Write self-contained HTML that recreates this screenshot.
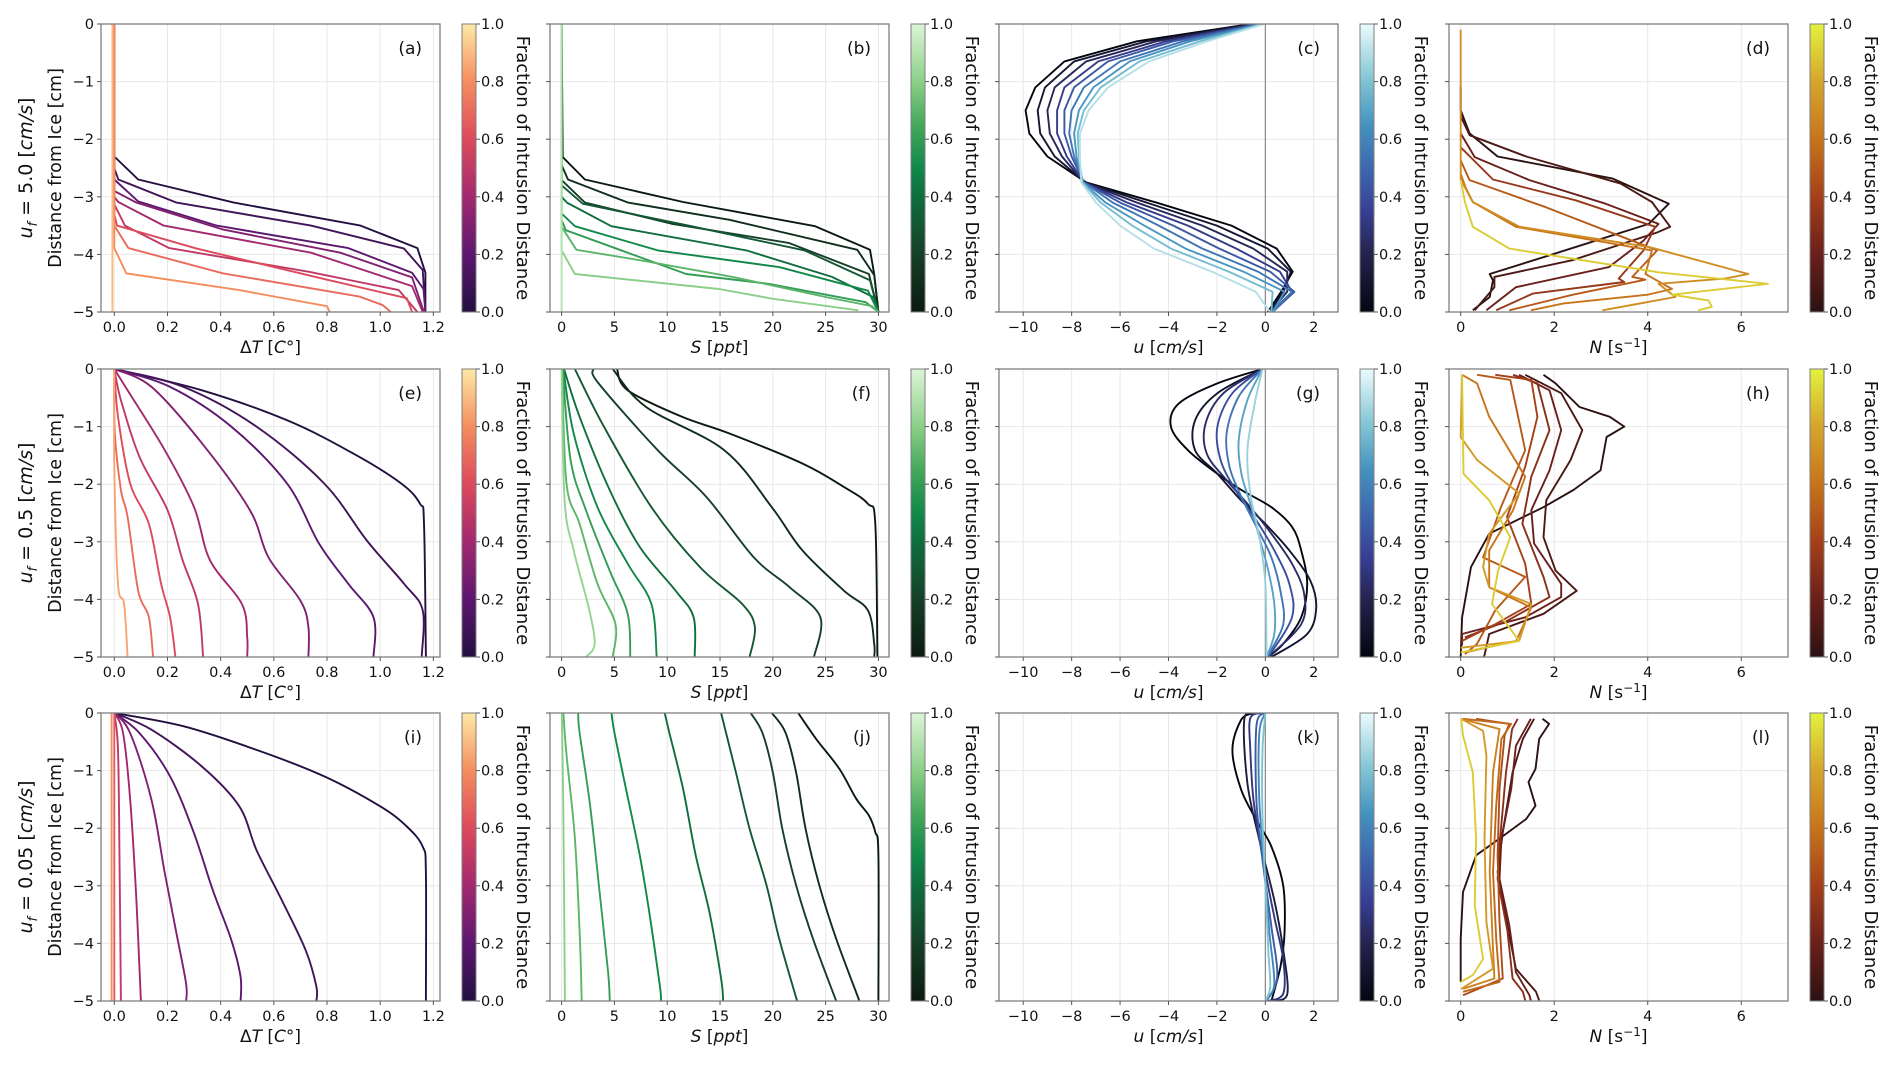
<!DOCTYPE html>
<html><head><meta charset="utf-8"><style>
html,body{margin:0;padding:0;background:#fff;}
svg text{font-family:"DejaVu Sans","Liberation Sans",sans-serif;fill:#111;}
</style></head><body>
<svg id="fig" xmlns="http://www.w3.org/2000/svg" width="1892" height="1060" viewBox="0 0 1892 1060">
<defs></defs>
</svg>
<script>
// ---------- data ----------
const aFrac=[0,0.1,0.2,0.3,0.4,0.5,0.6,0.7,0.8,0.9];
const aX=[[0,0,0.09,0.45,0.926,1.14,1.17,1.17],[0,0,0.015,0.234,0.74,1.09,1.16,1.17],[0,0,0.09,0.385,0.88,1.12,1.163,1.17],[0,0,0.083,0.41,0.85,1.12,1.165],[0,0,0.015,0.186,0.74,1.12,1.16],[0,0,0.04,0.207,0.73,1.07,1.14],[0,0,0.01,0.31,0.8,1.1,1.12],[0,0,0.053,0.41,0.92,1.01,1.04],[0,0,0.045,0.47,0.8,0.81],[-0.007,-0.007]];
const aZ=[[0,-2.3,-2.7,-3.1,-3.5,-3.89,-4.32,-5],[0,-2.5,-2.7,-3.1,-3.5,-3.9,-4.27,-5],[0,-2.7,-3.08,-3.5,-3.89,-4.32,-4.6,-5],[0,-2.9,-3.1,-3.57,-3.97,-4.4,-5],[0,-3.0,-3.09,-3.5,-3.97,-4.55,-5],[0,-3.13,-3.5,-3.89,-4.3,-4.62,-5],[0,-3.3,-3.5,-3.9,-4.44,-4.76,-5],[0,-3.5,-3.89,-4.33,-4.73,-4.88,-5],[0,-3.89,-4.33,-4.62,-4.9,-5],[0,-5]];

const bFrac=[0,0.1,0.2,0.3,0.4,0.5,0.6,0.7,0.8,0.9];
const bX=[[0,0.1,2.2,11.5,24,29.2,29.6,30],[0,0,0.6,6.3,15.9,28,29.6,30],[0,0,2.2,10.5,21.5,29.1,30],[0,0,2.0,12,23,29.2,30],[0,0,0.5,4.7,17.5,25.6,29.5,30],[0,0,1.26,9.1,20.6,29,30],[0,0,0.4,5.5,11.8,19.6,28.8,30],[0,0,1.4,7.4,16.2,25,29.4,30],[0,0,1.26,14.9,20,28.1],[0,0]];
const bZ=[[0,-2.31,-2.7,-3.09,-3.51,-3.92,-4.34,-5],[0,-2.45,-2.7,-3.1,-3.4,-3.92,-4.36,-5],[0,-2.71,-3.1,-3.47,-3.8,-4.34,-5],[0,-2.8,-3.12,-3.5,-3.93,-4.45,-5],[0,-3.0,-3.1,-3.51,-3.93,-4.39,-4.74,-5],[0,-3.29,-3.51,-3.93,-4.22,-4.63,-5],[0,-3.4,-3.58,-3.92,-4.34,-4.51,-4.83,-5],[0,-3.52,-3.92,-4.1,-4.39,-4.74,-4.9,-5],[0,-3.93,-4.34,-4.6,-4.77,-4.97],[0,-5]];

const cFrac=[0,0.11,0.22,0.33,0.44,0.55,0.66,0.78,0.9];
const cDepth=[0,-0.3,-0.65,-1.1,-1.5,-1.9,-2.3,-2.75,-3.1,-3.5,-3.9,-4.3,-4.65,-5];
const cX=[[-0.6,-5.3,-8.3,-9.5,-9.9,-9.75,-9.0,-7.4,-4.5,-1.4,0.47,1.13,0.65,0.1],
[-0.5,-4.9,-7.9,-9.1,-9.4,-9.3,-8.7,-7.45,-4.9,-2.0,0.1,1.05,0.75,0.15],
[-0.4,-4.5,-7.4,-8.7,-9.0,-8.9,-8.4,-7.5,-5.3,-2.6,-0.5,0.9,0.9,0.2],
[-0.3,-4.1,-6.9,-8.3,-8.6,-8.6,-8.2,-7.5,-5.7,-3.2,-1.2,0.6,1.1,0.25],
[-0.25,-3.8,-6.5,-7.9,-8.3,-8.3,-8.0,-7.5,-6.0,-3.8,-1.9,0.2,1.2,0.3],
[-0.2,-3.4,-6.0,-7.5,-8.0,-8.1,-7.9,-7.5,-6.3,-4.4,-2.6,-0.3,1.1,0.3],
[-0.15,-3.1,-5.6,-7.1,-7.7,-7.9,-7.8,-7.55,-6.6,-5.0,-3.3,-0.9,0.8,0.3],
[-0.1,-2.7,-5.2,-6.8,-7.5,-7.75,-7.7,-7.55,-6.8,-5.5,-3.9,-1.5,0.3,0.25],
[-0.05,-2.4,-4.8,-6.5,-7.3,-7.66,-7.66,-7.6,-7.0,-6.0,-4.6,-2.2,-0.4,0.2]];

const dFrac=[0,0.1,0.2,0.35,0.5,0.6,0.7,0.9];
const dX=[[0,0,0.19,0.79,3.24,4.45,4.02,2.0,0.62,0.69,0.62,0.26],[0,0.19,1.4,3.42,4.09,4.48,4.2,2.39,0.72,0.72,0.3],[0,0.3,1.47,3.1,4.23,3.91,3.17,1.18,0.55],[0,0.69,2.46,4.16,3.91,3.38,3.5,1.54,0.76],[0,0.19,1.82,4.2,3.67,3.95,2.4,1.04],[0,0.1,0.26,1.18,4.09,3.95,4.52,4.0,2.2,1.5],[0,0,0.26,1.26,4.02,6.15,5.65,4.23,4.59,3.03],[0,0.09,0.26,1.04,4.23,6.57,4.52,5.3,5.37,5.08]];
const dZ=[[-1.09,-1.5,-1.9,-2.3,-2.68,-3.12,-3.47,-3.99,-4.34,-4.45,-4.74,-4.97],[-1.6,-1.93,-2.3,-2.77,-3.09,-3.52,-3.62,-4.1,-4.39,-4.57,-4.97],[-1.9,-2.31,-2.71,-3.12,-3.47,-3.76,-4.22,-4.57,-4.97],[-2.14,-2.7,-3.06,-3.52,-3.93,-4.42,-4.48,-4.68,-4.97],[-2.37,-2.71,-3.18,-3.93,-4.39,-4.44,-4.7,-4.97],[-2.6,-2.83,-3.09,-3.52,-3.93,-4.34,-4.6,-4.7,-4.85,-4.97],[-0.1,-2.7,-3.09,-3.52,-3.87,-4.34,-4.42,-4.51,-4.74,-4.97],[-2.7,-3.09,-3.52,-3.9,-4.31,-4.51,-4.7,-4.8,-4.91,-4.97]];

const eFrac=[0,0.1,0.2,0.3,0.4,0.5,0.6,0.7,0.85];
const eX=[[0,0.33,0.65,0.9,1.08,1.15,1.165,1.172],[0,0.26,0.535,0.79,0.95,1.09,1.16,1.156],[0,0.21,0.44,0.65,0.77,0.88,0.975,0.975],[0,0.14,0.33,0.51,0.58,0.7,0.73,0.73],[0,0.05,0.19,0.3,0.36,0.48,0.5,0.5],[0,0.025,0.095,0.2,0.257,0.315,0.334],[0,0.014,0.06,0.13,0.176,0.21,0.23],[0,0.002,0.025,0.05,0.09,0.13,0.146],[0,0,0.014,0.037,0.05]];
const eZ=[[0,-0.37,-0.89,-1.47,-1.99,-2.34,-2.69,-5],[0,-0.31,-1,-1.99,-2.98,-3.73,-4.19,-5],[0,-0.31,-1,-1.99,-3.03,-3.73,-4.31,-5],[0,-0.31,-1.29,-2.45,-3.27,-4.02,-4.48,-5],[0,-0.37,-1.41,-2.4,-3.32,-4.08,-4.66,-5],[0,-0.54,-1.53,-2.45,-3.32,-4.08,-5],[0,-0.83,-1.99,-2.69,-3.73,-4.31,-5],[0,-1.1,-2.1,-2.57,-3.85,-4.31,-5],[0,-1.7,-3.73,-4.08,-5]];

const fFrac=[0,0.1,0.2,0.3,0.4,0.5,0.6,0.7,0.82];
const fX=[[5.24,6.26,11.4,15.9,22.8,26.75,29,29.7,29.9],[4.84,8,15.4,19.9,22.8,26.75,29,29.6,29.6],[3.0,3.5,9.1,13.7,18.2,21.6,24.5,23.9],[1.25,4.0,8.5,13.1,17.1,18.3,17.8],[0.23,1.7,4.55,7.4,10.8,12.5,12.6],[0.17,1.14,3.4,6.26,8.5,9.0],[0.1,0.85,2.3,4.55,6.26,6.5],[0.05,0.46,1.7,3.4,5.1,4.84],[0,0.28,1.14,2.56,3.13,2.3]];
const fZ=[[0,-0.37,-0.83,-1.12,-1.64,-2.05,-2.34,-2.69,-5],[0,-0.66,-1.41,-2.4,-3.15,-3.85,-4.19,-4.77,-5],[0,-0.25,-1.41,-2.22,-3.27,-3.79,-4.31,-5],[0,-1,-2.4,-3.44,-4.08,-4.48,-5],[0,-0.83,-2.1,-3.09,-3.85,-4.31,-5],[0,-1.12,-2.4,-3.38,-4.08,-5],[0,-1.58,-2.45,-3.5,-4.25,-5],[0,-1.99,-2.69,-3.73,-4.43,-5],[0,-2.28,-3.15,-4.14,-4.77,-5]];

const gFrac=[0,0.1,0.25,0.4,0.55,0.7,0.85];
const gX=[[-0.12,-1.98,-3.58,-3.9,-3.2,-1.98,-0.99,0.25,1.1,1.48,1.73,1.48,0.74,0.12],[-0.12,-1.98,-2.9,-2.9,-1.98,-1,0,0.99,1.85,2.1,1.73,0.25],[-0.12,-1.73,-2.47,-2.42,-1.6,-0.62,0.25,1.1,1.6,1.48,0.12],[-0.12,-1.36,-1.98,-1.85,-1.23,-0.37,0.37,0.99,1.1,0.12],[-0.12,-1.1,-1.6,-1.48,-0.99,-0.37,0.25,0.62,0.74,0.07],[-0.12,-0.74,-1.1,-0.99,-0.62,-0.25,0.12,0.37,0.37,0.05],[-0.12,-0.44,-0.74,-0.62,-0.25,0,0.05]];
const gZ=[[0,-0.25,-0.6,-1,-1.41,-1.82,-2.1,-2.4,-2.74,-3.15,-3.73,-4.31,-4.77,-5],[0,-0.42,-0.89,-1.41,-1.82,-2.28,-2.69,-3.15,-3.67,-4.14,-4.6,-5],[0,-0.42,-0.95,-1.47,-1.93,-2.4,-2.86,-3.38,-3.9,-4.43,-5],[0,-0.42,-1,-1.58,-2.1,-2.63,-3.15,-3.73,-4.31,-5],[0,-0.48,-1.12,-1.7,-2.22,-2.74,-3.27,-3.85,-4.43,-5],[0,-0.54,-1.24,-1.82,-2.34,-2.92,-3.5,-4.08,-4.6,-5],[0,-0.6,-1.41,-2.16,-2.92,-3.73,-5]];

const hFrac=[0,0.1,0.2,0.3,0.4,0.5,0.6,0.75,0.9];
const hX=[[1.77,2.03,2.54,3.19,3.5,3.12,2.99,2.41,1.77,0.61,0.22,0.03,0],[1.38,2.15,2.6,2.35,1.83,1.77,2.03,2.48,1.77,0.61,0.5],[1.25,1.9,2.15,1.9,1.51,1.57,2.15,2.15,1.38,0.03,0.03],[1.12,1.64,1.9,1.51,1.32,1.77,1.9,1.0,0.09],[0.74,1.51,1.64,1.38,0.99,1.38,1.51,0.74,0.03],[0.35,1.06,1.38,0.86,0.48,1.38,0.74,0.35,0.09],[0.03,0.35,0.61,1.38,1.12,0.61,0.61,1.51,1.19,0.09],[0.03,0,0.35,1.25,0.61,0.48,0.61,1.51,1.25,0],[0.03,0.06,0.61,1.06,0.8,0.67,1.25,0]];
const hZ=[[-0.1,-0.25,-0.66,-0.83,-1,-1.18,-1.76,-2.1,-2.4,-2.86,-3.44,-4.31,-5],[-0.1,-0.42,-1.06,-1.58,-2.28,-2.92,-3.5,-3.85,-4.25,-4.6,-5],[-0.1,-0.37,-1.06,-1.76,-2.45,-3.03,-3.73,-3.96,-4.31,-4.6,-4.8],[-0.1,-0.25,-1.06,-1.87,-2.69,-3.61,-3.96,-4.37,-4.66],[-0.1,-0.19,-0.83,-1.7,-2.57,-3.38,-4.08,-4.43,-4.72],[-0.1,-0.19,-1.41,-2.4,-3.27,-3.61,-4.19,-4.77,-4.95],[-0.1,-0.25,-0.83,-1.87,-2.45,-3.15,-3.79,-4.14,-4.72,-4.92],[-0.1,-1.18,-1.58,-2.16,-2.86,-3.44,-3.79,-4.08,-4.72,-4.84],[-0.1,-1.82,-2.28,-2.92,-3.5,-4.08,-4.72,-4.92]];

const iFrac=[0,0.1,0.2,0.3,0.4,0.5,0.65,0.8];
const iX=[[0,0.26,0.535,0.79,1.0,1.1,1.16,1.172,1.172],[0,0.14,0.33,0.47,0.535,0.63,0.72,0.76,0.76],[0,0.095,0.21,0.3,0.37,0.44,0.475,0.475],[0,0.06,0.14,0.19,0.234,0.27,0.27],[0,0.033,0.06,0.083,0.1],[0,0.014,0.02,0.025],[0,0,0],[-0.01,-0.01]];
const iZ=[[0,-0.23,-0.64,-1.1,-1.62,-1.97,-2.32,-2.78,-5],[0,-0.29,-0.93,-1.62,-2.38,-3.25,-4.12,-4.75,-5],[0,-0.35,-1.1,-2.09,-3.07,-3.94,-4.58,-5],[0,-0.35,-1.51,-2.78,-3.83,-4.7,-5],[0,-0.35,-1.51,-3.25,-5],[0,-0.64,-2.67,-5],[0,-2.5,-5],[0,-5]];

const jFrac=[0,0.1,0.2,0.3,0.4,0.5,0.6,0.7,0.8];
const jX=[[22.4,24.1,26.3,27.9,29.1,29.7,30,30],[19.9,21.2,22.2,23.1,24.4,26,28.2],[17.9,19,20,20.9,22.2,23.8,26],[15.1,16.5,17.8,19.4,20.6,22.3],[9.76,10.2,11.5,12.7,14,15.1,15.3],[4.72,5.0,6.1,7.4,8.3,9.3,9.4],[1.57,1.7,2.7,3.6,4.4,4.56],[0.16,0.47,1.26,1.73,1.9],[0.03,0.16,0.31]];
const jZ=[[0,-0.45,-0.97,-1.49,-1.78,-2.07,-2.47,-5],[0,-0.34,-1.03,-2.01,-2.99,-3.92,-5],[0,-0.34,-1.03,-2.01,-2.99,-3.92,-5],[0,-1.03,-2.01,-2.99,-3.92,-5],[0,-0.34,-1.32,-2.47,-3.46,-4.61,-5],[0,-0.34,-1.32,-2.47,-3.46,-4.73,-5],[0,-0.34,-1.61,-3.11,-4.5,-5],[0,-0.74,-2.18,-3.92,-5],[0,-1.61,-5]];

const kFrac=[0,0.15,0.3,0.45,0.6,0.8];
const kX=[[-0.5,-1,-1.36,-1,-0.37,0.25,0.74,0.79,0.62,0.25],[-0.25,-0.86,-0.74,-0.25,0.37,0.74,0.91,0.37],[-0.12,-0.62,-0.62,-0.49,-0.12,0.37,0.74,0.74,0.12],[-0.05,-0.37,-0.37,-0.12,0.25,0.49,0.05],[0,-0.25,-0.25,-0.05,0.17,0.37,0.02],[0,-0.12,-0.12,0,0.12,0.2,0]];
const kZ=[[0,-0.12,-0.64,-1.33,-1.86,-2.32,-3.01,-3.83,-4.41,-5],[0,-0.09,-1.22,-2.2,-3.25,-4.12,-4.87,-5],[0,-0.09,-0.64,-1.51,-2.49,-3.54,-4.29,-4.87,-5],[0,-0.23,-1.51,-2.55,-3.71,-4.58,-5],[0,-0.35,-1.51,-2.67,-3.83,-4.7,-5],[0,-0.64,-1.8,-2.96,-4.12,-4.75,-5]];

const lFrac=[0,0.1,0.2,0.3,0.45,0.55,0.65,0.75,0.9];
const lX=[[1.75,1.89,1.68,1.6,1.45,1.6,1.4,0.83,0.33,0.05,0,0],[1.57,1.33,1.11,0.9,0.79,0.97,1.18,1.61,1.68],[1.5,1.18,1.08,0.87,0.83,1.04,1.18,1.47,1.5],[1.22,1.1,0.97,0.83,0.79,1.0,1.11,1.33,1.38],[0.33,1.04,0.94,0.83,0.79,0.83,0.9,0.05],[0.05,1.08,0.87,0.76,0.69,0.76,0.83,0.05],[0.01,0.83,0.69,0.62,0.69,0.72,0.05],[0.01,0.48,0.55,0.51,0.55,0.69,0.01],[0.01,0.05,0.26,0.33,0.3,0.48,0.26,0]];
const lZ=[[-0.1,-0.19,-0.45,-0.97,-1.2,-1.61,-1.84,-2.18,-2.47,-3.11,-3.92,-4.67],[-0.1,-0.45,-1.03,-2.07,-2.76,-3.57,-4.44,-4.84,-4.99],[-0.1,-0.57,-1.32,-2.18,-2.88,-3.69,-4.5,-4.9,-4.99],[-0.1,-0.28,-1.03,-2.3,-2.88,-3.78,-4.61,-4.84,-4.99],[-0.1,-0.19,-0.39,-1.32,-2.47,-3.63,-4.61,-4.9],[-0.1,-0.19,-0.45,-1.61,-2.76,-3.92,-4.67,-4.84],[-0.1,-0.28,-1.03,-2.76,-4.09,-4.61,-4.79],[-0.1,-0.31,-0.74,-2.18,-3.63,-4.44,-4.79],[-0.1,-0.39,-1.03,-2.18,-3.34,-4.27,-4.55,-4.67]];

// tick label arrays
const tTicks=[0,0.2,0.4,0.6,0.8,1.0,1.2];
const tTickLabels=["0.0","0.2","0.4","0.6","0.8","1.0","1.2"];
const sTicks=[0,5,10,15,20,25,30];
const sTickLabels=["0","5","10","15","20","25","30"];
const uTicks=[-10,-8,-6,-4,-2,0,2];
const uTickLabels=["\u221210","\u22128","\u22126","\u22124","\u22122","0","2"];
const nTicks=[0,2,4,6];
const nTickLabels=["0","2","4","6"];
const zTicks=[0,-1,-2,-3,-4,-5];
const zTickLabels=["0","\u22121","\u22122","\u22123","\u22124","\u22125"];
const cbTicks=[0,0.2,0.4,0.6,0.8,1.0];
const cbTickLabels=["0.0","0.2","0.4","0.6","0.8","1.0"];

// colormaps (position, color)
const cmT=[[0,'#231040'],[0.2,'#5c176e'],[0.4,'#a3296f'],[0.6,'#dc4a5c'],[0.8,'#f68d5e'],[1,'#fde9a6']];
const cmS=[[0,'#0b1a10'],[0.2,'#163f28'],[0.4,'#0f6e3e'],[0.5,'#11884a'],[0.65,'#45a85a'],[0.8,'#8ccf89'],[1,'#dbf5d6']];
const cmU=[[0,'#04060f'],[0.2,'#24234e'],[0.35,'#383f94'],[0.5,'#3d68ae'],[0.65,'#4592c0'],[0.8,'#7ec3d2'],[1,'#ebfbfc']];
const cmN=[[0,'#2b1212'],[0.2,'#6b1f1a'],[0.4,'#a4401a'],[0.6,'#c8741a'],[0.8,'#d6a52c'],[1,'#e2f23c']];

// ---------- drawing ----------
const NS='http://www.w3.org/2000/svg';
const svg=document.getElementById('fig');
function el(tag,attrs,parent){const e=document.createElementNS(NS,tag);for(const k in attrs)e.setAttribute(k,attrs[k]);(parent||svg).appendChild(e);return e;}
function hex(c){return [parseInt(c.slice(1,3),16),parseInt(c.slice(3,5),16),parseInt(c.slice(5,7),16)];}
function cmap(stops,t){for(let i=0;i<stops.length-1;i++){const a=stops[i],b=stops[i+1];if(t<=b[0]){const u=(t-a[0])/(b[0]-a[0]);const ca=hex(a[1]),cb=hex(b[1]);return 'rgb('+ca.map((v,k)=>Math.round(v+(cb[k]-v)*u)).join(',')+')';}}return stops[stops.length-1][1];}

const colLeft=[101,550,999,1449], rowTop=[24,369,713], W=339, H=288;
const zlim=[-5,0];

function linePath(pts){return 'M'+pts.map(p=>p[0].toFixed(1)+','+p[1].toFixed(1)).join('L');}
function smoothPath(pts){if(pts.length<3)return linePath(pts);let d='M'+pts[0][0].toFixed(1)+','+pts[0][1].toFixed(1);for(let i=0;i<pts.length-1;i++){const p0=pts[i-1]||pts[i],p1=pts[i],p2=pts[i+1],p3=pts[i+2]||p2;const c1=[p1[0]+(p2[0]-p0[0])/6,p1[1]+(p2[1]-p0[1])/6];const c2=[p2[0]-(p3[0]-p1[0])/6,p2[1]-(p3[1]-p1[1])/6];d+='C'+c1[0].toFixed(1)+','+c1[1].toFixed(1)+' '+c2[0].toFixed(1)+','+c2[1].toFixed(1)+' '+p2[0].toFixed(1)+','+p2[1].toFixed(1);}return d;}

let gradId=0;
function panel(o){
  const L=colLeft[o.col], T=rowTop[o.row];
  const xs=v=>L+(v-o.xlim[0])/(o.xlim[1]-o.xlim[0])*W;
  const ys=v=>T+(zlim[1]-v)/(zlim[1]-zlim[0])*H;
  const g=el('g',{});
  
  
  o.xticks.forEach(t=>{const l=el('line',{x1:xs(t),x2:xs(t),y1:T,y2:T+H,stroke:'#e8e8e8','stroke-width':1},g);});
  zTicks.forEach(t=>{const l=el('line',{x1:L,x2:L+W,y1:ys(t),y2:ys(t),stroke:'#e8e8e8','stroke-width':1},g);});
  if(o.zeroLine){const z=el('line',{x1:xs(0),x2:xs(0),y1:T,y2:T+H,stroke:'#8a8a8a','stroke-width':1.2},g);}
  const cid='clip'+o.letter;
  const cp=el('clipPath',{id:cid},g);el('rect',{x:L,y:T,width:W,height:H},cp);
  const cg=el('g',{'clip-path':'url(#'+cid+')'},g);
  for(let i=0;i<o.X.length;i++){
    const zz=o.Zshared?o.Zshared:o.Z[i];
    const pts=o.X[i].map((v,k)=>[xs(v),ys(zz[k])]);
    const p=el('path',{d:o.smooth?smoothPath(pts):linePath(pts),fill:'none',stroke:cmap(o.cm,o.frac[i]),'stroke-width':1.9,'stroke-linejoin':'round'},cg);
    
    
  }
  const fr=el('rect',{x:L,y:T,width:W,height:H,fill:'none',stroke:'#7f7f7f','stroke-width':1.3},g);
  
  o.xticks.forEach((t,k)=>{el('line',{x1:xs(t),x2:xs(t),y1:T+H,y2:T+H+4,stroke:'#555','stroke-width':1},g);
    const tx=el('text',{x:xs(t),y:T+H+20,'text-anchor':'middle','font-size':14.5},g);tx.textContent=o.xlabels[k];
    });
  zTicks.forEach((t,k)=>{el('line',{x1:L-4,x2:L,y1:ys(t),y2:ys(t),stroke:'#555','stroke-width':1},g);
    if(o.col===0){const ty=el('text',{x:L-7,y:ys(t)+5,'text-anchor':'end','font-size':14.5},g);ty.textContent=zTickLabels[k];
    }});
  const xl=el('text',{x:L+W/2,y:T+H+41,'text-anchor':'middle','font-size':17},g);xl.innerHTML=o.xtitle;
  
  const lt=el('text',{x:L+W-18,y:T+30,'text-anchor':'end','font-size':17},g);lt.textContent='('+o.letter+')';
  
  const cbL=L+361, cbW=14;
  const gid='grad'+(gradId++);
  const lg=el('linearGradient',{id:gid,x1:0,y1:1,x2:0,y2:0},svg.querySelector('defs'));
  for(let s=0;s<=20;s++){el('stop',{offset:s/20,'stop-color':cmap(o.cm,s/20)},lg);}
  const cb=el('rect',{x:cbL,y:T,width:cbW,height:H,fill:'url(#'+gid+')',stroke:'#7f7f7f','stroke-width':1},g);
  
  cbTicks.forEach((t,k)=>{const y=T+H-t*H;el('line',{x1:cbL+cbW,x2:cbL+cbW+4,y1:y,y2:y,stroke:'#555','stroke-width':1},g);
    const ct=el('text',{x:cbL+cbW+5,y:y+5,'font-size':14.5},g);ct.textContent=cbTickLabels[k];
    });
  const cx=cbL+55, cy=T+H/2;
  const cl=el('text',{x:cx,y:cy,'text-anchor':'middle','font-size':18,transform:'rotate(90 '+cx+' '+cy+')'},g);
  cl.textContent='Fraction of Intrusion Distance';
  
}

const TT='\u0394<tspan font-style="italic">T</tspan> [<tspan font-style="italic">C</tspan>\u00b0]';
const ST='<tspan font-style="italic">S</tspan> [<tspan font-style="italic">ppt</tspan>]';
const UT='<tspan font-style="italic">u</tspan> [<tspan font-style="italic">cm/s</tspan>]';
const NT='<tspan font-style="italic">N</tspan> [s<tspan dy="-6" font-size="12">\u22121</tspan><tspan dy="6">]</tspan>';

const cfgT={xlim:[-0.05,1.225],xticks:tTicks,xlabels:tTickLabels,xtitle:TT,cm:cmT};
const cfgS={xlim:[-1.1,31.0],xticks:sTicks,xlabels:sTickLabels,xtitle:ST,cm:cmS};
const cfgU={xlim:[-11,3],xticks:uTicks,xlabels:uTickLabels,xtitle:UT,cm:cmU,zeroLine:true};
const cfgN={xlim:[-0.25,7.0],xticks:nTicks,xlabels:nTickLabels,xtitle:NT,cm:cmN};

panel(Object.assign({col:0,row:0,letter:'a',X:aX,Z:aZ,frac:aFrac},cfgT));
panel(Object.assign({col:1,row:0,letter:'b',X:bX,Z:bZ,frac:bFrac},cfgS));
panel(Object.assign({col:2,row:0,letter:'c',X:cX,Zshared:cDepth,frac:cFrac},cfgU));
panel(Object.assign({col:3,row:0,letter:'d',X:dX,Z:dZ,frac:dFrac},cfgN));
panel(Object.assign({col:0,row:1,letter:'e',X:eX,Z:eZ,frac:eFrac,smooth:true},cfgT));
panel(Object.assign({col:1,row:1,letter:'f',X:fX,Z:fZ,frac:fFrac,smooth:true},cfgS));
panel(Object.assign({col:2,row:1,letter:'g',X:gX,Z:gZ,frac:gFrac,smooth:true},cfgU));
panel(Object.assign({col:3,row:1,letter:'h',X:hX,Z:hZ,frac:hFrac},cfgN));
panel(Object.assign({col:0,row:2,letter:'i',X:iX,Z:iZ,frac:iFrac,smooth:true},cfgT));
panel(Object.assign({col:1,row:2,letter:'j',X:jX,Z:jZ,frac:jFrac,smooth:true},cfgS));
panel(Object.assign({col:2,row:2,letter:'k',X:kX,Z:kZ,frac:kFrac,smooth:true},cfgU));
panel(Object.assign({col:3,row:2,letter:'l',X:lX,Z:lZ,frac:lFrac},cfgN));

const rowVals=['5.0','0.5','0.05'];
rowVals.forEach((v,r)=>{
  const cy=rowTop[r]+H/2;
  const t1=el('text',{x:32,y:cy,'text-anchor':'middle','font-size':19,transform:'rotate(-90 32 '+cy+')'});
  t1.innerHTML='<tspan font-style="italic">u</tspan><tspan font-style="italic" font-size="13" dy="5">f</tspan><tspan dy="-5"> = '+v+' [</tspan><tspan font-style="italic">cm/s</tspan>]';
  
  
  const t2=el('text',{x:61,y:cy,'text-anchor':'middle','font-size':17.5,transform:'rotate(-90 61 '+cy+')'});
  t2.textContent='Distance from Ice [cm]';
  
  
});
</script>
</body></html>
